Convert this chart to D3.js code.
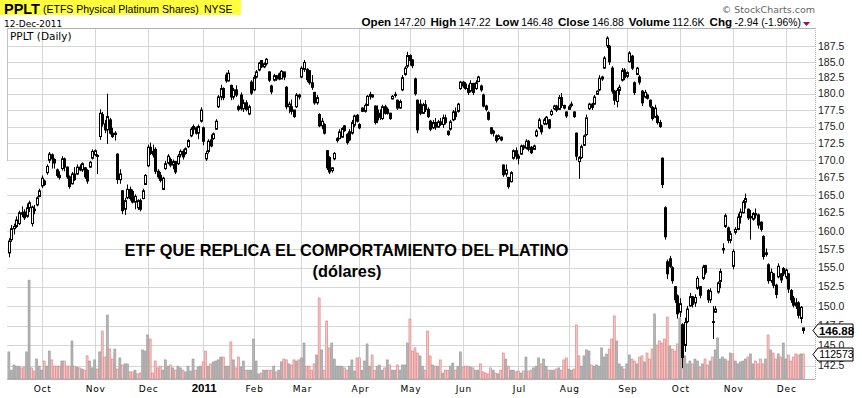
<!DOCTYPE html>
<html>
<head>
<meta charset="utf-8">
<script src="https://cdn.jsdelivr.net/npm/d3@7"></script>
<style>
  body { margin: 0; background: #fff; }
  svg { display: block; }
</style>
</head>
<body>
<svg id="chart" width="862" height="398"></svg>
<script>
// trading calendar of the chart (NYSE days)
const firstDay = "2010-09-14";
const lastDay = "2011-12-12";
const holidays = ["2010-11-25", "2010-12-24", "2011-01-17", "2011-02-21", "2011-04-22",
  "2011-05-30", "2011-07-04", "2011-09-05", "2011-11-24"];

// daily prices, one line per month (Sep 2010 .. Dec 2011)
const opens = [
  157.0,158.8,160.3,160.6,161.0,162.5,162.6,162.0,163.2,161.0,163.0,163.6,164.8,
  166.3,167.0,168.2,170.0,170.8,170.1,168.6,167.8,168.8,170.2,169.0,167.6,166.6,168.0,168.0,169.0,168.6,168.9,168.5,169.0,170.3,
  170.8,170.6,173.5,176.8,175.4,174.5,176.0,174.0,173.8,170.9,167.2,165.6,163.0,164.6,165.8,165.5,164.0,163.2,164.2,164.5,166.5,
  169.2,171.9,171.3,171.6,168.4,167.8,165.8,168.8,169.6,170.1,169.3,169.8,169.5,170.8,171.3,171.0,172.0,173.6,174.6,174.8,174.0,175.8,
  174.8,170.2,171.3,173.0,173.2,174.6,178.0,179.5,180.8,182.9,182.0,181.3,179.5,180.6,178.0,179.8,177.7,178.6,176.9,181.8,
  180.6,182.6,183.7,185.2,184.2,184.7,183.4,181.2,182.1,182.8,183.1,182.3,183.4,181.0,178.0,178.0,177.5,178.0,179.8,
  182.6,183.8,183.8,183.6,181.7,180.2,178.6,176.8,175.1,175.3,171.4,170.4,168.5,170.2,172.9,173.2,173.4,175.1,173.8,174.2,174.0,175.2,176.7,
  175.3,177.8,177.3,178.2,179.6,179.5,178.1,177.5,177.0,176.2,178.0,177.6,177.0,179.2,179.8,179.0,177.8,180.6,183.0,184.3,
  186.0,185.3,182.3,179.0,178.4,177.0,178.3,177.6,175.8,174.8,175.6,174.9,175.7,175.3,176.3,174.3,174.6,176.0,177.2,177.3,180.8,
  181.8,181.5,180.8,180.4,181.6,180.8,181.9,181.2,179.8,178.1,177.1,174.8,174.0,173.6,173.2,173.4,169.3,168.0,167.5,166.9,170.3,171.4,
  170.6,170.9,172.1,171.8,172.8,171.9,171.6,173.6,174.8,175.1,175.4,175.4,176.0,176.8,177.7,178.1,177.6,179.4,178.2,177.2,
  177.6,178.2,177.2,174.0,169.8,170.4,172.2,173.8,177.7,178.4,178.4,179.9,180.6,182.3,184.0,187.6,187.5,184.0,180.4,178.8,180.5,182.1,183.7,
  182.7,185.0,185.9,181.7,183.0,182.6,180.4,179.5,179.8,179.0,177.9,176.4,176.5,175.6,170.3,163.2,155.8,156.2,155.0,152.5,151.3,
  149.2,147.6,145.0,148.0,150.0,151.2,150.4,152.3,152.5,153.6,155.3,152.0,150.8,147.9,149.2,151.8,153.2,157.4,160.6,160.4,158.7,
  155.2,159.8,160.2,161.9,162.5,164.0,163.0,161.8,161.6,162.4,162.2,161.2,159.2,156.8,155.4,153.3,154.2,152.7,153.8,154.2,154.9,
  153.8,154.2,152.0,151.0,150.4,150.4,148.4,147.20
];
const highs = [
  159.0,160.8,161.0,162.0,162.8,163.4,163.0,163.8,164.2,163.5,163.6,164.8,165.9,
  167.8,167.2,169.4,171.2,171.0,170.3,168.8,168.4,170.6,170.4,169.1,167.8,168.3,169.0,169.4,169.4,169.7,169.0,168.7,169.9,171.6,
  171.6,170.9,177.6,177.2,176.0,180.0,176.3,174.8,174.3,171.0,168.7,165.7,164.6,166.5,166.2,165.8,165.1,164.4,164.5,165.9,168.0,
  172.3,172.6,172.3,171.9,168.7,168.3,167.6,169.9,170.9,170.4,170.1,169.9,170.9,171.6,171.6,171.9,173.1,174.9,175.3,175.0,175.3,177.9,
  175.0,171.4,173.1,173.8,174.1,176.1,179.8,181.4,181.0,183.3,183.7,181.4,180.9,181.3,178.3,180.2,179.1,179.0,178.3,182.1,
  182.9,183.7,185.0,185.3,184.9,185.6,183.5,181.4,183.1,182.9,183.3,183.7,183.4,181.2,178.8,179.1,177.5,180.1,180.0,
  184.3,185.3,184.0,183.7,182.9,180.3,179.8,177.0,176.3,175.5,171.5,170.6,169.0,171.2,173.4,174.6,174.9,175.2,174.0,174.6,176.0,176.8,176.9,
  175.5,177.9,178.5,179.8,180.3,179.9,178.2,178.2,177.6,178.3,178.3,177.9,177.1,179.8,180.3,179.1,179.1,182.9,184.3,186.6,
  186.2,185.4,182.5,179.1,179.1,178.6,179.0,177.9,176.0,176.0,176.3,176.0,176.3,176.8,176.8,174.4,176.0,177.5,177.9,178.6,182.0,
  182.0,181.8,181.4,182.1,181.7,182.1,182.8,181.4,180.0,178.3,177.3,174.9,174.5,173.8,173.8,173.5,169.4,169.4,167.6,168.4,171.6,171.9,
  170.9,172.3,172.3,173.1,173.0,172.1,172.3,174.6,176.3,175.3,176.3,176.6,176.1,177.6,178.3,178.3,179.8,180.1,178.3,177.3,
  178.3,178.8,177.3,174.1,170.6,172.3,173.8,176.8,178.6,178.6,179.8,180.5,182.9,182.8,185.9,189.1,187.7,184.3,180.6,180.9,181.4,184.0,184.0,
  183.5,186.7,186.1,181.9,184.2,182.9,180.6,180.6,180.0,179.1,178.1,178.3,176.8,176.0,170.4,163.4,156.1,156.6,155.2,152.6,151.5,
  151.0,147.8,148.5,150.0,151.7,151.3,151.5,153.9,152.6,155.4,155.4,152.2,152.3,150.0,150.0,153.2,154.9,158.3,162.4,160.6,160.0,
  157.5,160.5,162.4,163.1,164.3,165.2,163.1,162.9,162.6,163.1,162.4,161.3,159.4,157.6,155.6,154.9,154.3,152.9,155.6,154.3,155.1,
  154.9,154.3,152.2,151.3,151.0,150.6,150.0,147.22
];
const lows = [
  156.4,158.5,159.5,160.4,160.8,161.9,161.5,161.8,162.6,160.6,162.3,163.4,164.7,
  166.0,166.3,167.9,169.6,168.8,168.8,167.5,167.2,168.5,168.4,167.3,165.9,166.5,167.0,167.9,168.4,168.3,167.3,166.6,168.9,170.1,
  170.6,168.0,173.0,175.0,174.0,172.4,173.8,173.3,172.9,166.6,166.6,162.3,162.2,164.4,164.2,163.8,163.0,162.9,162.7,164.4,166.5,
  169.0,170.8,170.4,168.0,167.3,166.8,165.7,168.6,169.4,169.0,168.7,168.0,169.3,170.4,170.1,170.8,171.8,173.4,173.8,173.8,173.1,175.6,
  172.2,169.9,171.0,171.9,173.0,174.5,177.8,179.0,179.0,181.7,181.9,179.0,179.1,179.5,177.3,177.4,177.2,177.3,176.7,179.8,
  180.4,182.4,183.5,184.0,184.0,184.4,181.8,179.9,181.9,182.0,182.1,182.3,182.1,177.6,177.0,176.8,176.3,177.8,179.1,
  182.4,183.4,181.8,181.4,180.6,178.3,178.3,174.9,174.6,173.8,168.6,168.0,168.2,170.0,172.6,173.1,173.3,174.2,172.3,172.8,173.8,174.9,175.6,
  174.6,177.2,177.1,178.1,179.1,179.4,175.3,175.5,176.0,176.0,176.8,176.8,176.0,179.1,179.4,177.5,177.7,180.4,182.8,184.0,
  184.4,184.0,179.7,174.0,176.7,176.9,177.2,176.3,174.3,174.6,174.5,174.8,175.1,174.8,175.3,173.6,174.4,175.8,176.0,177.1,180.6,
  180.9,180.6,179.8,180.2,179.8,180.6,181.8,180.3,177.9,177.3,175.9,173.8,173.5,172.6,173.0,172.8,167.6,167.6,165.9,166.8,170.1,170.1,
  169.4,170.8,171.5,171.6,171.3,170.9,171.5,173.4,174.6,173.8,175.2,175.2,174.6,176.6,177.5,177.2,177.5,177.8,177.6,176.3,
  177.5,177.9,176.3,170.0,167.3,170.2,172.1,173.6,177.5,177.5,178.3,179.8,180.4,182.0,183.9,187.2,184.5,180.0,178.3,177.9,179.8,181.9,182.1,
  182.4,184.9,183.7,179.8,182.9,181.4,178.1,179.3,179.1,177.8,175.9,176.3,175.3,174.8,166.0,158.8,153.5,155.0,152.9,150.4,148.4,
  148.6,142.2,144.2,147.8,149.9,149.8,149.9,152.1,151.0,153.4,154.1,150.4,150.4,145.8,149.1,151.6,152.3,156.9,160.4,158.3,158.3,
  154.8,159.5,160.1,161.0,162.4,163.1,161.5,158.8,161.4,161.7,160.3,159.9,156.1,156.5,152.9,153.0,152.3,151.0,153.6,153.0,153.9,
  153.5,151.7,150.4,149.8,149.6,148.4,147.8,146.48
];
const closes = [
  158.6,160.3,160.6,161.5,162.5,162.3,161.8,163.2,163.9,163.3,162.8,164.6,165.6,
  167.4,166.5,169.1,170.9,170.2,169.6,167.8,167.5,170.2,169.0,167.6,166.2,168.0,167.2,169.0,168.6,169.5,167.6,167.0,169.7,171.3,
  171.4,170.7,177.0,175.4,174.5,176.5,174.0,173.5,174.0,167.2,168.0,162.8,164.2,165.8,164.5,164.0,164.8,164.2,163.0,165.6,167.8,
  171.9,171.0,170.8,168.4,167.6,167.1,167.4,169.5,170.6,169.3,169.8,168.3,170.6,171.3,170.5,171.7,172.9,174.6,175.0,174.0,175.0,177.5,
  172.8,171.0,172.8,172.1,173.9,175.8,179.5,180.8,179.4,182.0,183.2,179.5,180.6,179.8,177.6,177.7,178.6,177.6,178.0,180.1,
  182.5,183.4,184.8,184.2,184.7,185.4,182.1,180.3,182.8,182.3,182.3,183.5,182.6,178.0,178.4,177.3,176.5,179.8,179.5,
  184.0,184.9,182.2,181.7,181.0,178.6,179.4,175.1,175.8,174.0,168.9,168.3,168.9,171.0,173.2,174.2,174.7,174.4,172.6,173.0,175.6,176.6,175.8,
  174.8,177.3,178.2,179.6,179.9,179.8,175.6,176.0,176.4,178.0,177.0,177.0,176.2,179.6,179.9,177.8,178.8,182.5,184.0,186.0,
  185.2,184.4,180.0,174.5,177.0,178.3,177.6,176.5,174.6,175.6,174.9,175.7,175.3,176.3,175.6,173.8,175.7,177.2,176.5,178.4,181.8,
  181.2,180.8,180.2,181.6,180.2,181.7,182.6,180.6,178.1,177.6,176.1,174.0,174.3,172.9,173.6,173.0,167.9,168.6,166.2,168.2,171.4,170.6,
  170.3,172.1,171.8,172.8,171.6,171.1,172.1,174.3,176.0,174.2,176.0,176.4,174.8,177.3,178.1,177.5,179.4,178.2,177.8,176.6,
  178.0,178.4,176.5,170.6,170.4,172.0,173.6,176.3,178.4,177.9,179.5,180.4,182.4,182.6,185.6,188.8,185.0,180.4,179.0,180.5,181.0,183.6,182.5,
  183.3,186.4,184.0,180.2,184.0,181.8,178.6,180.2,179.3,178.1,176.2,177.8,175.6,175.0,166.5,159.2,154.2,155.2,153.3,150.8,149.0,
  150.3,143.5,147.9,149.6,151.2,150.2,151.1,153.6,151.4,155.1,154.4,150.8,151.9,148.0,149.6,153.0,154.5,157.6,162.1,158.7,159.6,
  157.2,160.2,161.9,162.6,164.0,164.5,161.8,162.0,162.4,162.2,160.8,160.2,156.5,157.0,153.3,154.4,152.7,151.5,155.2,153.4,154.2,
  154.7,152.2,150.8,150.1,150.0,148.8,149.82,146.88
];
// daily volume, thousands of shares
const volumes = [
  122,40,63,58,58,50,54,122,445,50,36,90,58,
  40,81,58,126,86,58,58,58,81,81,58,58,171,58,54,50,45,40,104,81,50,
  86,45,122,216,99,288,135,90,135,45,95,63,68,68,32,32,40,23,27,131,126,
  198,180,27,81,50,58,40,86,58,63,50,40,58,50,40,32,58,36,90,40,54,58,
  77,126,58,68,77,81,86,99,99,58,58,167,86,50,99,54,81,40,40,40,
  180,81,23,27,40,40,40,40,58,32,40,77,90,86,68,63,86,81,86,
  95,162,58,58,40,68,108,365,131,40,261,140,162,90,58,58,58,50,40,58,86,36,95,
  95,40,81,158,58,108,40,58,63,40,50,86,63,40,40,63,40,63,63,162,
  270,126,140,117,104,58,40,216,104,63,58,58,86,27,40,40,58,72,40,58,122,
  54,58,58,54,50,40,40,68,32,27,23,50,40,27,23,40,117,90,58,40,40,32,
  36,27,36,99,36,40,50,58,95,68,90,58,40,40,40,45,50,40,86,95,
  45,40,45,243,104,58,104,131,126,63,58,63,58,140,99,112,135,180,284,171,68,54,45,
  68,108,90,81,68,99,104,77,117,90,135,293,153,171,162,180,279,149,135,126,158,
  275,185,104,68,81,68,90,81,54,68,90,63,81,99,131,185,90,99,90,81,117,
  113,81,68,77,81,90,99,113,68,81,68,90,68,90,198,131,117,90,113,99,162,
  90,108,81,99,113,108,113,112.573
];

const priceTicks = [142.5, 145, 147.5, 150, 152.5, 155, 157.5, 160, 162.5, 165, 167.5, 170,
  172.5, 175, 177.5, 180, 182.5, 185, 187.5];
const monthLabels = ["Oct", "Nov", "Dec", "2011", "Feb", "Mar", "Apr", "May", "Jun", "Jul",
  "Aug", "Sep", "Oct", "Nov", "Dec"];
const statLabels = ["Open", "High", "Low", "Close", "Volume", "Chg"];
const statValues = ["147.20", "147.22", "146.48", "146.88", "112.6K", "-2.94 (-1.96%)"];

const parse = d3.utcParse("%Y-%m-%d"), fmt = d3.utcFormat("%Y-%m-%d");
const hol = new Set(holidays);
const days = d3.utcDays(parse(firstDay), d3.utcDay.offset(parse(lastDay), 1))
  .filter(d => d.getUTCDay() % 6 !== 0 && !hol.has(fmt(d)));

const bars = days.map((d, i) => ({
  date: d, i: i, o: opens[i], h: highs[i], l: lows[i], c: closes[i],
  v: volumes[i] * 1000,
  down: i > 0 && closes[i] < closes[i - 1]
}));

const plotL = 7, plotR = 815, plotT = 28, plotB = 379;
const svg = d3.select("#chart");
const sans = "'Liberation Sans', Arial, sans-serif";
const verd = "'DejaVu Sans', Verdana, sans-serif";

const x = d3.scalePoint().domain(bars.map(d => d.i)).range([8.9, 803.4]);
const y = d3.scaleLog().domain([142.5, 187.5]).range([365.7, 46.2]);
const yv = d3.scaleLinear().domain([0, 450000]).range([plotB, plotB - 100]);

const monthStarts = bars.filter((d, i) => i > 0 && d.date.getUTCMonth() !== bars[i - 1].date.getUTCMonth());

// header
svg.append("rect").attr("x", 0).attr("y", 0).attr("width", 241).attr("height", 15).attr("fill", "#ffff40");
svg.append("text").attr("x", 4).attr("y", 13.5)
  .attr("font-family", sans).attr("font-weight", "bold").attr("font-size", 14.5)
  .text("PPLT");
svg.append("text").attr("x", 43).attr("y", 12.5)
  .attr("font-family", sans).attr("font-size", 10.5)
  .text("(ETFS Physical Platinum Shares)");
svg.append("text").attr("x", 204).attr("y", 12.5)
  .attr("font-family", sans).attr("font-size", 10.5)
  .text("NYSE");
svg.append("text").attr("x", 4).attr("y", 26.5)
  .attr("font-family", verd).attr("font-size", 9)
  .text("12-Dec-2011");
svg.append("text").attr("x", 815).attr("y", 13).attr("text-anchor", "end")
  .attr("font-family", verd).attr("font-size", 9.5).attr("fill", "#666")
  .text("\u00a9 StockCharts.com");

const stats = svg.append("text").attr("x", 801).attr("y", 26).attr("text-anchor", "end")
  .attr("font-family", sans);
statLabels.forEach((lab, k) => {
  stats.append("tspan").attr("font-weight", "bold").attr("font-size", 11.6)
    .attr("dx", k === 0 ? 0 : 5).text(lab);
  stats.append("tspan").attr("font-size", 10.4).attr("dx", 2.5).text(statValues[k]);
});
svg.append("path").attr("d", "M803,22 L810,22 L806.5,26 Z").attr("fill", "#a0103a");

// grid
const grid = svg.append("g").attr("stroke", "#d6d6d6").attr("stroke-width", 1);
grid.selectAll("line.h").data(priceTicks).join("line")
  .attr("x1", plotL).attr("x2", plotR)
  .attr("y1", d => Math.round(y(d)) + 0.5).attr("y2", d => Math.round(y(d)) + 0.5);
grid.selectAll("line.v").data(monthStarts).join("line")
  .attr("y1", plotT).attr("y2", plotB)
  .attr("x1", d => Math.round(x(d.i)) + 0.5).attr("x2", d => Math.round(x(d.i)) + 0.5);

// volume
svg.append("g").selectAll("rect").data(bars).join("rect")
  .attr("x", d => x(d.i) - 1)
  .attr("width", 2)
  .attr("y", d => yv(d.v))
  .attr("height", d => plotB - yv(d.v))
  .attr("fill", d => d.down ? "#f8c4c4" : "#b4b4b4")
  .attr("stroke", d => d.down ? "#d98080" : "#9a9a9a")
  .attr("stroke-width", 0.6);

// candles
const candles = svg.append("g");
candles.selectAll("line").data(bars).join("line")
  .attr("x1", d => Math.round(x(d.i)) + 0.5).attr("x2", d => Math.round(x(d.i)) + 0.5)
  .attr("y1", d => y(d.h)).attr("y2", d => y(d.l))
  .attr("stroke", "#000").attr("stroke-width", 1);
candles.selectAll("rect").data(bars).join("rect")
  .attr("x", d => Math.round(x(d.i)) - 0.5)
  .attr("width", 2)
  .attr("y", d => y(Math.max(d.o, d.c)))
  .attr("height", d => Math.max(1, Math.abs(y(d.o) - y(d.c))))
  .attr("fill", d => d.c >= d.o ? "#fff" : "#000")
  .attr("stroke", "#000").attr("stroke-width", 1);

// frame
svg.append("line").attr("x1", plotL).attr("x2", plotR).attr("y1", plotT + 0.5).attr("y2", plotT + 0.5)
  .attr("stroke", "#b0b0b0");
svg.append("line").attr("x1", plotL).attr("x2", plotR).attr("y1", plotB + 0.5).attr("y2", plotB + 0.5)
  .attr("stroke", "#b0b0b0");
svg.append("line").attr("x1", plotR + 0.5).attr("x2", plotR + 0.5).attr("y1", plotT).attr("y2", plotB)
  .attr("stroke", "#b0b0b0").attr("stroke-dasharray", "1,1");
svg.append("line").attr("x1", plotL + 0.5).attr("x2", plotL + 0.5).attr("y1", plotT).attr("y2", 161)
  .attr("stroke", "#c0c0c0");

svg.append("text").attr("x", 10).attr("y", 40)
  .attr("font-family", verd).attr("font-size", 10.5)
  .text("PPLT (Daily)");

// right axis labels
svg.append("g").selectAll("text").data(priceTicks).join("text")
  .attr("x", 818).attr("y", d => y(d)).attr("dy", "0.35em")
  .attr("font-family", sans).attr("font-size", 10.5).attr("fill", "#222")
  .text(d => d.toFixed(1));

// month labels
svg.append("g").selectAll("text").data(monthStarts).join("text")
  .attr("x", d => x(d.i) + 1).attr("y", 392).attr("text-anchor", "middle")
  .attr("font-family", (d, k) => monthLabels[k] === "2011" ? sans : verd)
  .attr("font-weight", (d, k) => monthLabels[k] === "2011" ? "bold" : "normal")
  .attr("font-size", (d, k) => monthLabels[k] === "2011" ? 11.5 : 9)
  .attr("letter-spacing", (d, k) => monthLabels[k] === "2011" ? 0 : 0.8)
  .text((d, k) => monthLabels[k]);

// last value markers
function marker(yc, label, bold) {
  const x0 = 813, x1 = 853, hh = 6.5;
  svg.append("path")
    .attr("d", `M${x0},${yc} L${x0 + 5},${yc - hh} L${x1},${yc - hh} L${x1},${yc + hh} L${x0 + 5},${yc + hh} Z`)
    .attr("fill", "#fff").attr("stroke", "#000").attr("stroke-width", 1);
  svg.append("text").attr("x", (x0 + 5 + x1) / 2 + 1).attr("y", yc).attr("dy", "0.36em")
    .attr("text-anchor", "middle")
    .attr("font-family", sans).attr("font-size", bold ? 11.5 : 10.5)
    .attr("font-weight", bold ? "bold" : "normal")
    .text(label);
}
const last = bars[bars.length - 1];
marker(Math.round(y(last.c)) + 0.5, last.c.toFixed(2), true);
marker(Math.round(yv(last.v)) + 0.5, d3.format("d")(last.v), false);

// annotation
svg.append("text").attr("x", 346.5).attr("y", 256).attr("text-anchor", "middle")
  .attr("font-family", sans).attr("font-weight", "bold").attr("font-size", 16.3)
  .text("ETF QUE REPLICA EL COMPORTAMIENTO DEL PLATINO");
svg.append("text").attr("x", 347).attr("y", 277).attr("text-anchor", "middle")
  .attr("font-family", sans).attr("font-weight", "bold").attr("font-size", 16.3)
  .text("(dólares)");
</script>
</body>
</html>
